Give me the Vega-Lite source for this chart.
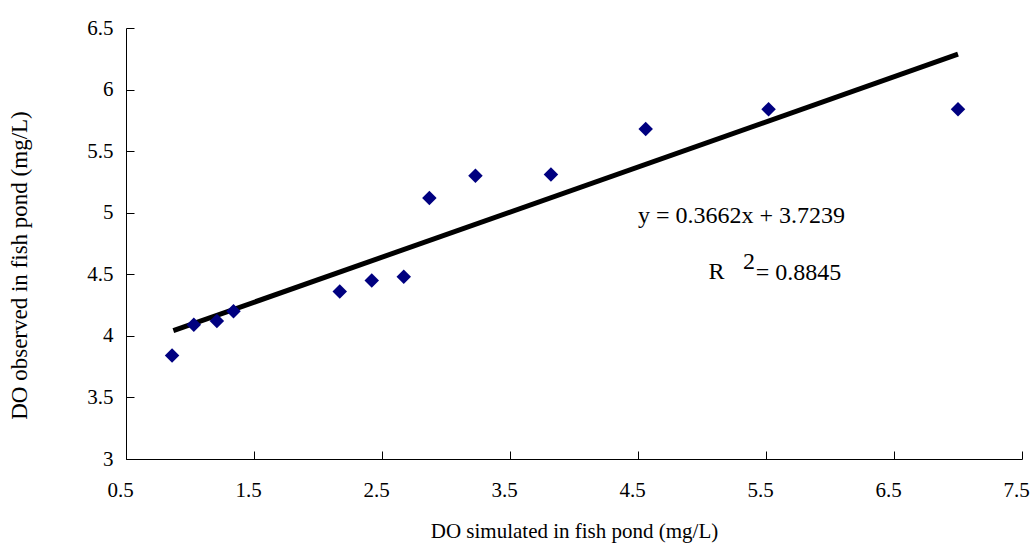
{
  "$schema": "https://vega.github.io/schema/vega-lite/v6.json",
  "width": 896,
  "height": 431,
  "autosize": "none",
  "padding": {"left": 126, "top": 28, "right": 13, "bottom": 91},
  "background": "white",
  "config": {
    "view": {"stroke": null},
    "font": "Liberation Serif",
    "axis": {"grid": false, "domainColor": "black", "tickColor": "black", "labelColor": "black", "titleColor": "black", "labelFont": "Liberation Serif", "titleFont": "Liberation Serif", "labelFontSize": 21, "titleFontSize": 21, "titleFontWeight": "normal", "tickSize": -8, "labelFlush": false, "labelOverlap": false}
  },
  "datasets": {
    "obs": [
      {"sim": 0.86, "obs": 3.84},
      {"sim": 1.03, "obs": 4.09},
      {"sim": 1.21, "obs": 4.12},
      {"sim": 1.34, "obs": 4.2},
      {"sim": 2.17, "obs": 4.36},
      {"sim": 2.42, "obs": 4.45},
      {"sim": 2.67, "obs": 4.48},
      {"sim": 2.87, "obs": 5.12},
      {"sim": 3.23, "obs": 5.3},
      {"sim": 3.82, "obs": 5.31},
      {"sim": 4.56, "obs": 5.68},
      {"sim": 5.52, "obs": 5.84},
      {"sim": 7.0, "obs": 5.84}
    ],
    "fit": [
      {"sim": 0.87, "obs": 4.042},
      {"sim": 7.0, "obs": 6.287}
    ],
    "notes": [
      {"sim": 4.5, "obs": 4.97, "label": "y = 0.3662x + 3.7239"},
      {"sim": 5.05, "obs": 4.52, "label": "R"},
      {"sim": 5.32, "obs": 4.6, "label": "2"},
      {"sim": 5.42, "obs": 4.51, "label": "= 0.8845"}
    ]
  },
  "layer": [
    {
      "data": {"name": "fit"},
      "mark": {"type": "line", "color": "black", "strokeWidth": 5},
      "encoding": {
        "x": {"field": "sim", "type": "quantitative", "scale": {"domain": [0.5, 7.5], "nice": false}, "axis": {"values": [0.5, 1.5, 2.5, 3.5, 4.5, 5.5, 6.5, 7.5], "format": ".1~f", "title": "DO simulated in fish pond (mg/L)", "titlePadding": 20, "labelPadding": 28, "labelOffset": -6}},
        "y": {"field": "obs", "type": "quantitative", "scale": {"domain": [3, 6.5], "nice": false, "zero": false}, "axis": {"values": [3, 3.5, 4, 4.5, 5, 5.5, 6, 6.5], "format": "~g", "title": "DO observed in fish pond (mg/L)", "titleFontSize": 23, "titleY": 237, "titlePadding": 55, "labelPadding": 21}}
      }
    },
    {
      "data": {"name": "obs"},
      "mark": {"type": "point", "shape": "diamond", "filled": true, "color": "#000080", "size": 210, "opacity": 1},
      "encoding": {
        "x": {"field": "sim", "type": "quantitative"},
        "y": {"field": "obs", "type": "quantitative"}
      }
    },
    {
      "data": {"name": "notes"},
      "mark": {"type": "text", "align": "left", "baseline": "middle", "color": "black", "fontSize": 24, "font": "Liberation Serif"},
      "encoding": {
        "x": {"field": "sim", "type": "quantitative"},
        "y": {"field": "obs", "type": "quantitative"},
        "text": {"field": "label"}
      }
    }
  ]
}
